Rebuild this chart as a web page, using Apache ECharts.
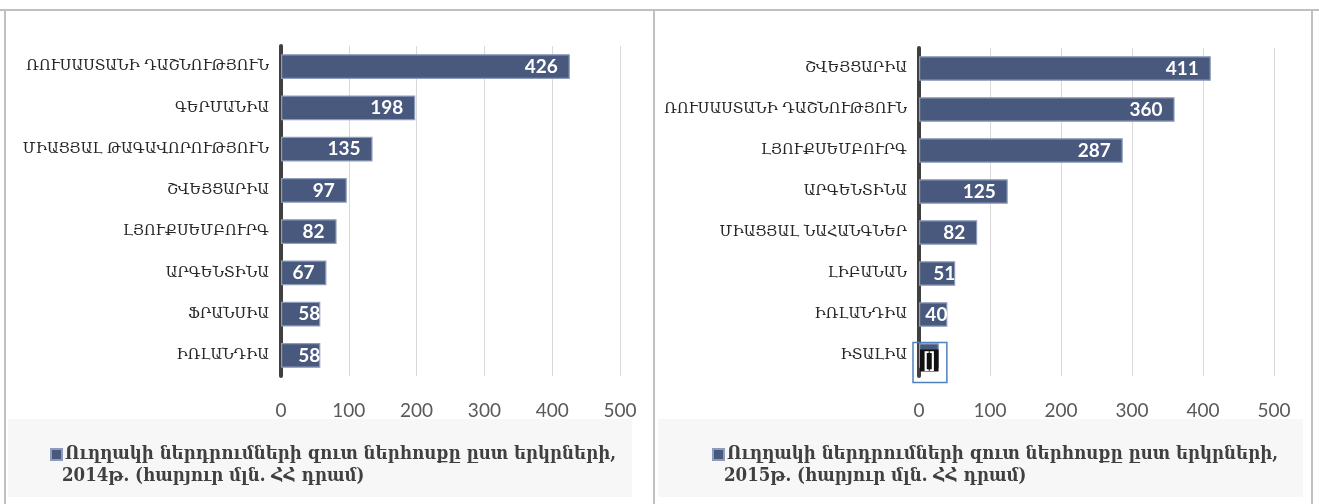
<!DOCTYPE html>
<html><head><meta charset="utf-8">
<script src="https://cdn.jsdelivr.net/npm/echarts@6/dist/echarts.min.js"></script>
<style>html,body{margin:0;padding:0;background:#fff}#c{width:1319px;height:504px}</style>
</head><body><div id="c"></div>
<script>
const categories2014 = ["ՌՈՒՍԱՍՏԱՆԻ ԴԱՇՆՈՒԹՅՈՒՆ","ԳԵՐՄԱՆԻԱ","ՄԻԱՑՅԱԼ ԹԱԳԱՎՈՐՈՒԹՅՈՒՆ","ՇՎԵՅՑԱՐԻԱ","ԼՅՈՒՔՍԵՄԲՈՒՐԳ","ԱՐԳԵՆՏԻՆԱ","ՖՐԱՆՍԻԱ","ԻՌԼԱՆԴԻԱ"];
const values2014 = [426,198,135,97,82,67,58,58];
const categories2015 = ["ՇՎԵՅՑԱՐԻԱ","ՌՈՒՍԱՍՏԱՆԻ ԴԱՇՆՈՒԹՅՈՒՆ","ԼՅՈՒՔՍԵՄԲՈՒՐԳ","ԱՐԳԵՆՏԻՆԱ","ՄԻԱՑՅԱԼ ՆԱՀԱՆԳՆԵՐ","ԼԻԲԱՆԱՆ","ԻՌԼԱՆԴԻԱ","ԻՏԱԼԻԱ"];
const values2015 = [411,360,287,125,82,51,40,28];
const labels2015 = ["411","360","287","125","82","51","40","[]"];
const xTicks = [0,100,200,300,400,500];
const legend2014 = ["Ուղղակի ներդրումների զուտ ներհոսքը ըստ երկրների,","2014թ. (հարյուր մլն. ՀՀ դրամ)"];
const legend2015 = ["Ուղղակի ներդրումների զուտ ներհոսքը ըստ երկրների,","2015թ. (հարյուր մլն. ՀՀ դրամ)"];

const BAR = '#48597d', BAR_BORDER = '#8d9cba';
const catFont = '"DejaVu Serif",serif';
const legFont = '"DejaVu Serif Condensed","DejaVu Serif",serif';
const numFont = 'Lato,"Open Sans",sans-serif';

function xAxis(gi){
  return {type:'value', gridIndex:gi, min:xTicks[0], max:xTicks[xTicks.length-1], interval:100,
    axisLine:{show:false}, axisTick:{show:false},
    axisLabel:{color:'#595959', fontFamily:numFont, fontSize:19, margin:25},
    splitLine:{show:true, lineStyle:{color:'#d9d9d9', width:1}}};
}
function yAxis(gi, cats){
  return {type:'category', gridIndex:gi, data:cats, inverse:true,
    axisLine:{show:true, lineStyle:{color:'#404040', width:4}}, axisTick:{show:false},
    axisLabel:{color:'#262626', fontFamily:catFont, fontSize:14.5, margin:12}};
}
function series(gi, name, vals, labs){
  return {type:'bar', name:name, xAxisIndex:gi, yAxisIndex:gi, barCategoryGap:'40%',
    data: vals.map((v,i)=>{
      const d = {value:v};
      if (v < 60) d.label = {distance:0};
      if (labs && labs[i]==='[]') {
        d.label = {formatter:'[]', position:'insideLeft', distance:0, offset:[1,5], color:'#fff', backgroundColor:'#111', padding:[2,3,0,3], fontSize:20, fontWeight:'bold'};
      }
      return d;
    }),
    itemStyle:{color:BAR, borderColor:BAR_BORDER, borderWidth:1.2},
    label:{show:true, position:'insideRight', distance:12, color:'#fff', fontFamily:numFont, fontWeight:'bold', fontSize:19,
      formatter: p => labs ? labs[p.dataIndex] : String(p.value)}};
}

const chart = echarts.init(document.getElementById('c'), null, {renderer:'canvas'});
const option = {
  animation:false,
  backgroundColor:'#fff',
  grid:[{left:281, top:46, width:339, height:330},{left:919, top:48, width:355, height:328}],
  xAxis:[xAxis(0), xAxis(1)],
  yAxis:[yAxis(0, categories2014), yAxis(1, categories2015)],
  series:[series(0, legend2014.join(' '), values2014, null), series(1, legend2015.join(' '), values2015, labels2015)],
  legend:[
    {data:[legend2014.join(' ')], left:45, top:440, itemWidth:11, itemHeight:11, itemGap:0, icon:'rect',
      formatter:()=>legend2014[0], textStyle:{color:'#404040', fontFamily:legFont, fontSize:18.5, fontWeight:'bold', padding:[0,0,0,-2]}},
    {data:[legend2015.join(' ')], left:707, top:440, itemWidth:11, itemHeight:11, itemGap:0, icon:'rect',
      formatter:()=>legend2015[0], textStyle:{color:'#404040', fontFamily:legFont, fontSize:18.5, fontWeight:'bold', padding:[0,0,0,-2]}}
  ],
  graphic:[
    {type:'rect', z:-10, shape:{x:8,y:419,width:624,height:78}, style:{fill:'#f7f7f7'}},
    {type:'rect', z:-10, shape:{x:658,y:419,width:645,height:78}, style:{fill:'#f7f7f7'}},
    {type:'line', shape:{x1:0,y1:10,x2:1319,y2:10}, style:{stroke:'#c0c0c0', lineWidth:2}},
    {type:'line', shape:{x1:5,y1:10,x2:5,y2:504}, style:{stroke:'#c0c0c0', lineWidth:2}},
    {type:'line', shape:{x1:654,y1:10,x2:654,y2:504}, style:{stroke:'#c0c0c0', lineWidth:2}},
    {type:'line', shape:{x1:1312,y1:10,x2:1312,y2:504}, style:{stroke:'#c0c0c0', lineWidth:2}},
    {type:'text', left:62, top:467, style:{text:legend2014[1], fill:'#404040', font:'bold 18.5px '+legFont}},
    {type:'text', left:724, top:467, style:{text:legend2015[1], fill:'#404040', font:'bold 18.5px '+legFont}}
  ]
};
chart.setOption(option);
// selection outline around the last 2015 bar, placed via the library's scales
const last = values2015.length-1;
const p0 = chart.convertToPixel({xAxisIndex:1, yAxisIndex:1}, [0, categories2015[last]]);
const p1 = chart.convertToPixel({xAxisIndex:1, yAxisIndex:1}, [values2015[last], categories2015[last]]);
chart.setOption({graphic:option.graphic.concat([
  {type:'rect', z:50, shape:{x:p0[0]-6, y:p0[1]-13, width:(p1[0]-p0[0])+14, height:40}, style:{fill:'none', stroke:'#4f81bd', lineWidth:1.5}}
])});
</script></body></html>
